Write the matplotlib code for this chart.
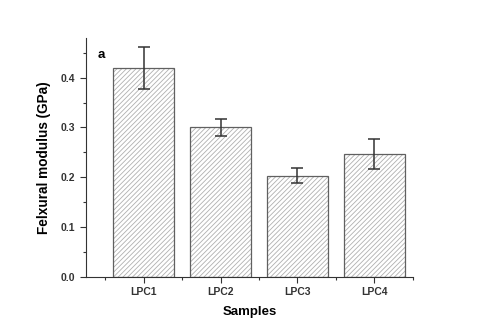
import matplotlib
matplotlib.use("Agg")
import matplotlib.pyplot as plt
from matplotlib.ticker import MultipleLocator

samples = ["LPC1", "LPC2", "LPC3", "LPC4"]
modulus = [0.420, 0.300, 0.203, 0.246]
errors = [0.042, 0.017, 0.015, 0.030]

plt.rcParams["font.family"] = ["Liberation Sans", "DejaVu Sans"]
plt.rcParams["hatch.linewidth"] = 0.6

fig = plt.figure(figsize=(4.8, 3.32), dpi=100)
ax = fig.add_axes([0.179, 0.166, 0.681, 0.72])

x = range(len(samples))
# hatch follows the edge colour, so draw the hatch and the outline separately
ax.bar(x, modulus, width=0.8, color="white", edgecolor="#b0b0b0",
       linewidth=0, hatch="///////")
ax.bar(x, modulus, width=0.8, fill=False, edgecolor="#606060", linewidth=0.9)
ax.errorbar(x, modulus, yerr=errors, fmt="none", ecolor="#333333",
            elinewidth=1.1, capsize=4.3, capthick=1.1)

ax.set_xlim(-0.75, 3.5)
ax.set_ylim(0, 0.48)
ax.set_xticks(list(x))
ax.set_xticklabels(samples, fontsize=7.5, fontweight="bold")
ax.set_xticks([-0.5, 0.5, 1.5, 2.5, 3.5], minor=True)
ax.yaxis.set_major_locator(MultipleLocator(0.1))
ax.yaxis.set_minor_locator(MultipleLocator(0.05))
for lab in ax.get_yticklabels():
    lab.set_fontsize(7.5)
    lab.set_fontweight("bold")
ax.tick_params(axis="both", which="major", length=4, width=0.8, colors="#333333")
ax.tick_params(axis="both", which="minor", length=2.5, width=0.8, colors="#333333")

ax.spines["top"].set_visible(False)
ax.spines["right"].set_visible(False)
ax.spines["left"].set_color("#333333")
ax.spines["bottom"].set_color("#333333")

ax.set_xlabel("Samples", fontsize=9.5, fontweight="bold", labelpad=6)
ax.set_ylabel("Felxural modulus (GPa)", fontsize=9.8, fontweight="bold", labelpad=7)
ax.text(0.035, 0.955, "a", transform=ax.transAxes, fontsize=9.5,
        fontweight="bold", va="top")

fig.savefig("out.png", dpi=100, facecolor="white")
